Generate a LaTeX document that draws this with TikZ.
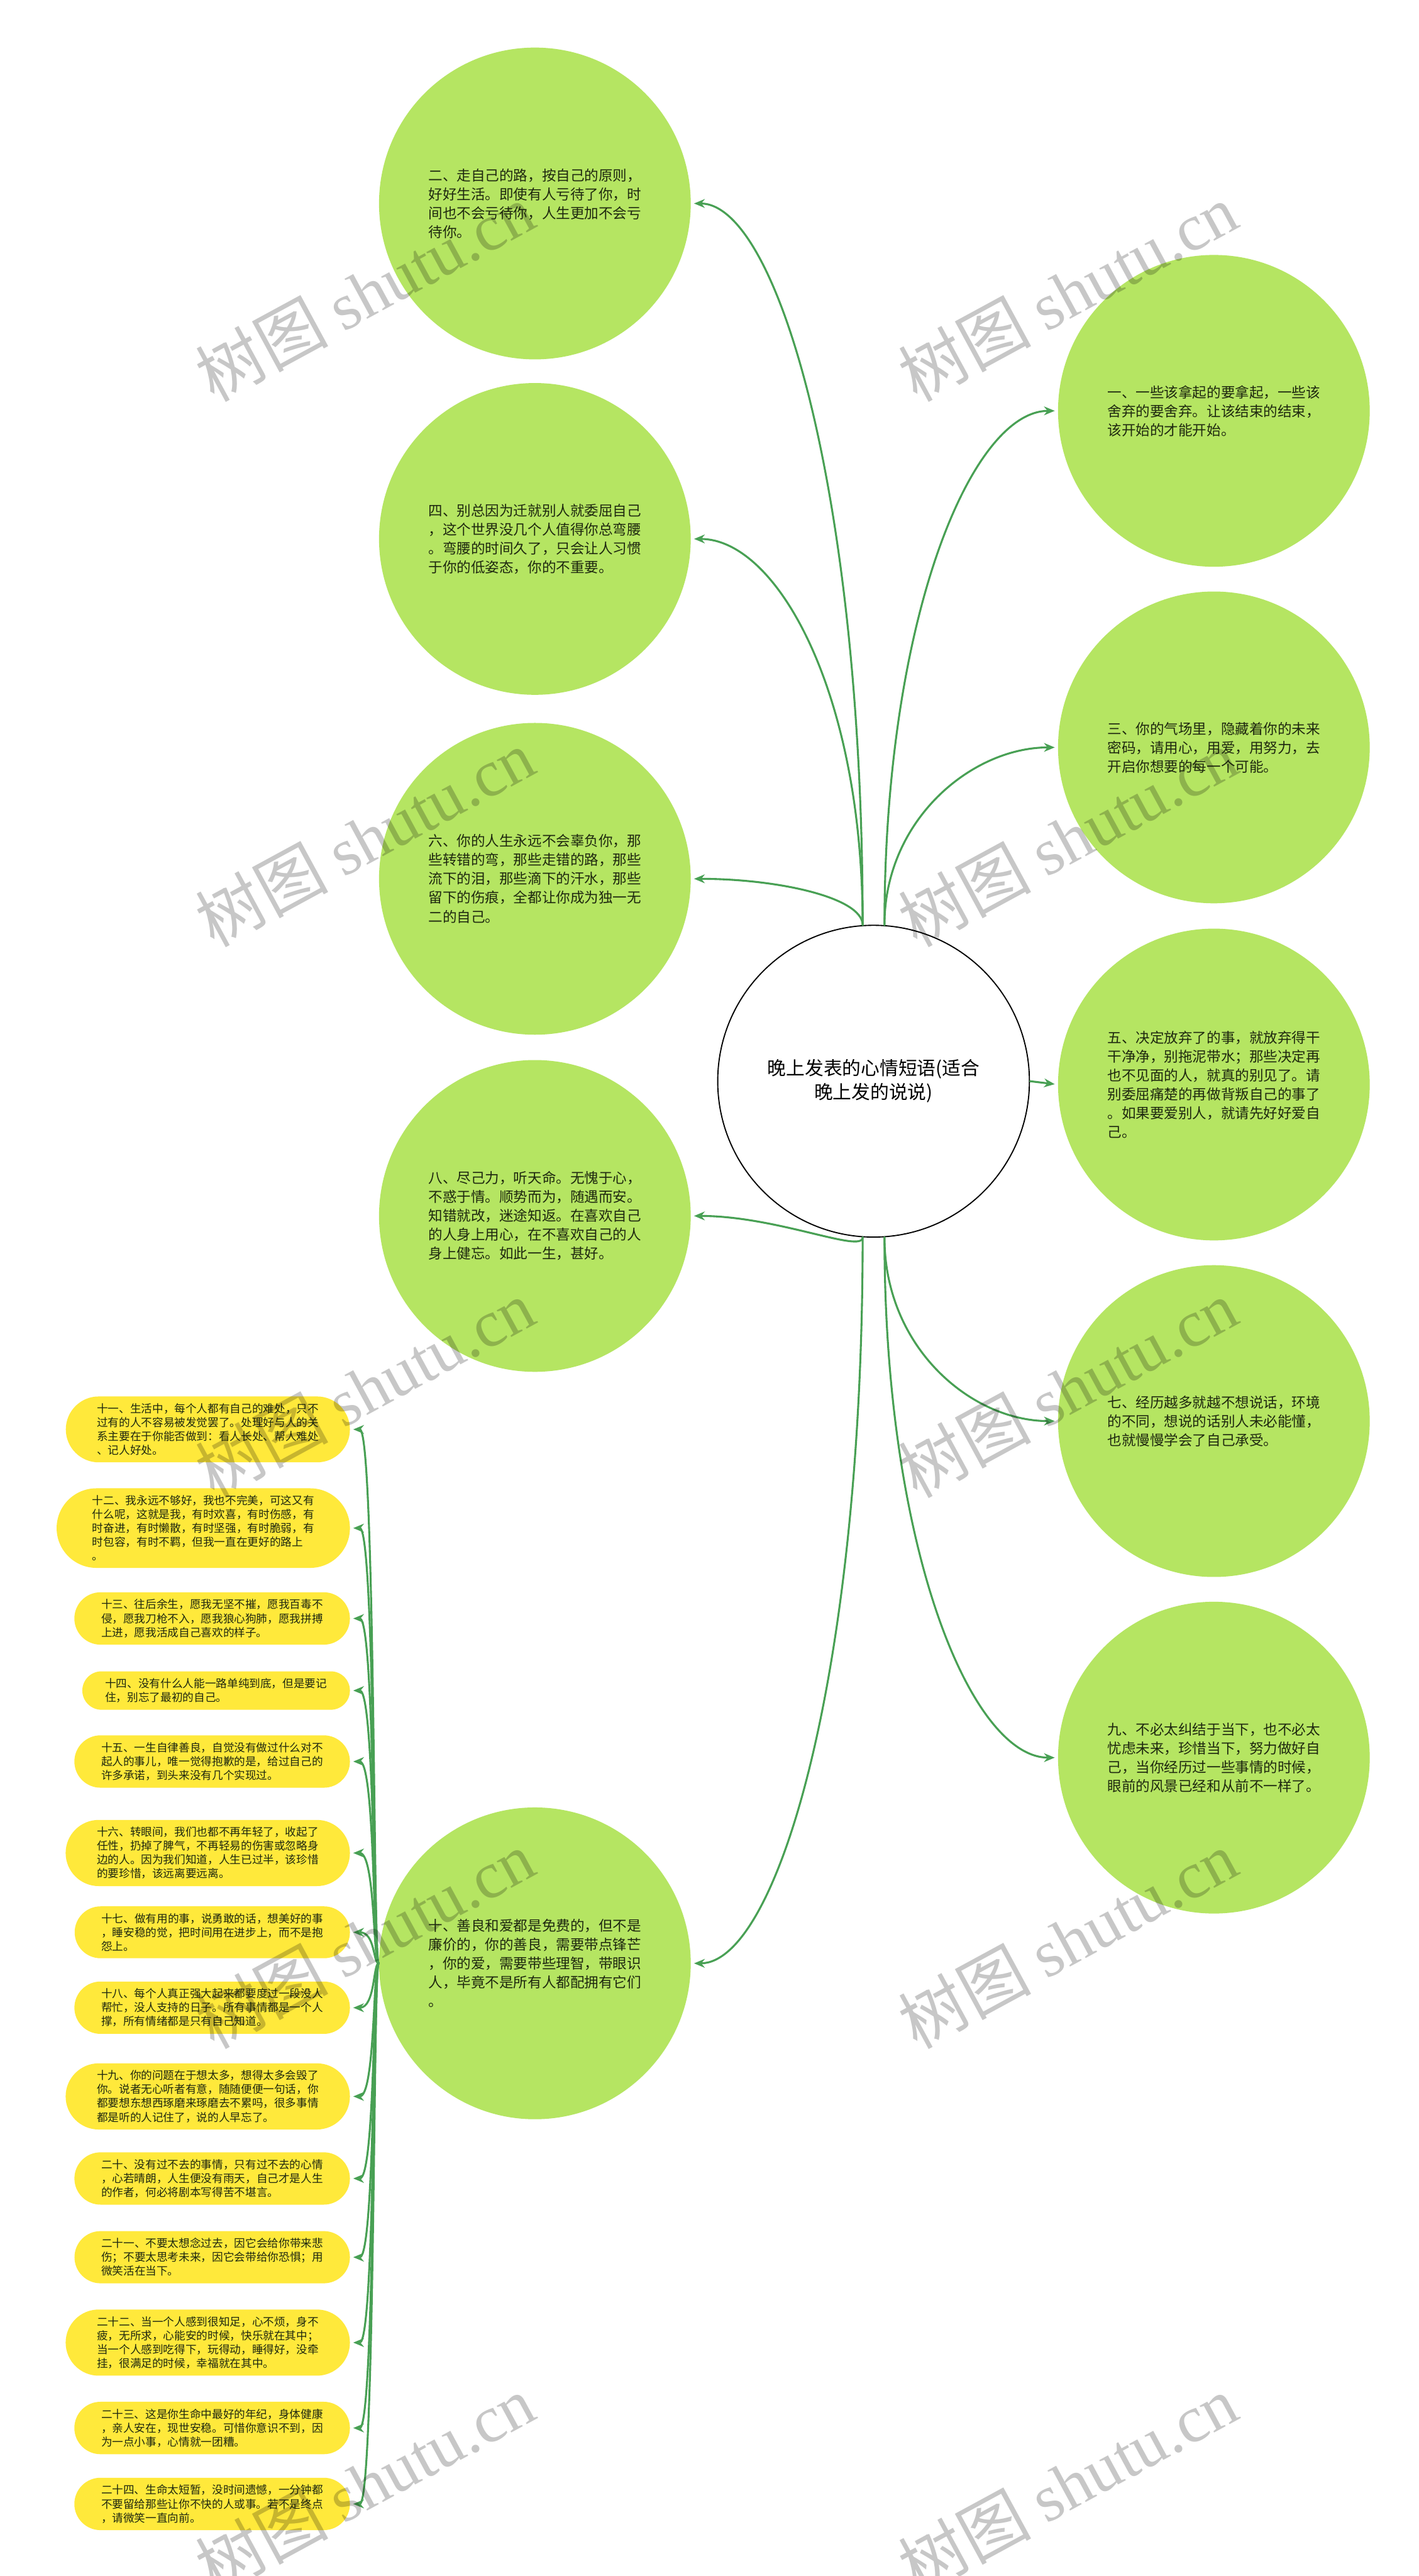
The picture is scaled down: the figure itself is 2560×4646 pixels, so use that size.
\documentclass[tikz,border=0pt]{standalone}
\usepackage{fontspec}
\setmainfont{Noto Sans CJK SC}
\newfontfamily\wmfont{Liberation Serif}
\usetikzlibrary{shapes.misc,arrows.meta}
\definecolor{leafgreen}{RGB}{181,229,98}
\definecolor{pillyellow}{RGB}{255,233,59}
\definecolor{linkgreen}{RGB}{72,160,84}
\definecolor{inkdark}{RGB}{30,40,15}
\tikzset{
	root/.style={circle,draw=black,line width=.6pt,fill=white,minimum size=5.62cm,align=center,font=\fontsize{9.6pt}{12.2pt}\selectfont},
	bubble/.style={circle,fill=leafgreen,minimum size=5.62cm,inner sep=0pt,align=left,text=inkdark,font=\fontsize{7.28pt}{9.68pt}\selectfont},
	pillnote/.style={rounded rectangle,fill=pillyellow,anchor=east,inner xsep=9.5pt,inner ysep=3.6pt,align=left,text=inkdark,font=\fontsize{5.69pt}{7.11pt}\selectfont},
	link/.style={draw=linkgreen,line width=1pt,-{Stealth[length=5.5pt,width=4.5pt]},shorten >=1.5pt},
	wmark/.style={rotate=28.5,text=black,text opacity=.22,font=\fontsize{34pt}{34pt}\selectfont}
}
\begin{document}
\begin{tikzpicture}[x=0.01cm,y=0.01cm,line join=round,line cap=round]
	\useasboundingbox (0,0) rectangle (2560,-4646);
	\fill[white] (0,0) rectangle (2560,-4646);
	\node[root] (root) at (1576,-1950) {晚上发表的心情短语(适合\\晚上发的说说)};
	% right column
	\node[bubble] (one) at (2190,-741) {一、一些该拿起的要拿起，一些该\\舍弃的要舍弃。让该结束的结束，\\该开始的才能开始。};
	\node[bubble] (three) at (2190,-1348) {三、你的气场里，隐藏着你的未来\\密码，请用心，用爱，用努力，去\\开启你想要的每一个可能。};
	\node[bubble] (five) at (2190,-1956) {五、决定放弃了的事，就放弃得干\\干净净，别拖泥带水；那些决定再\\也不见面的人，就真的别见了。请\\别委屈痛楚的再做背叛自己的事了\\。如果要爱别人，就请先好好爱自\\己。};
	\node[bubble] (seven) at (2190,-2563) {七、经历越多就越不想说话，环境\\的不同，想说的话别人未必能懂，\\也就慢慢学会了自己承受。};
	\node[bubble] (nine) at (2190,-3170) {九、不必太纠结于当下，也不必太\\忧虑未来，珍惜当下，努力做好自\\己，当你经历过一些事情的时候，\\眼前的风景已经和从前不一样了。};
	% left column
	\node[bubble] (two) at (965,-367) {二、走自己的路，按自己的原则，\\好好生活。即使有人亏待了你，时\\间也不会亏待你，人生更加不会亏\\待你。};
	\node[bubble] (four) at (965,-972) {四、别总因为迁就别人就委屈自己\\，这个世界没几个人值得你总弯腰\\。弯腰的时间久了，只会让人习惯\\于你的低姿态，你的不重要。};
	\node[bubble] (six) at (965,-1585) {六、你的人生永远不会辜负你，那\\些转错的弯，那些走错的路，那些\\流下的泪，那些滴下的汗水，那些\\留下的伤痕，全都让你成为独一无\\二的自己。};
	\node[bubble] (eight) at (965,-2193) {八、尽己力，听天命。无愧于心，\\不惑于情。顺势而为，随遇而安。\\知错就改，迷途知返。在喜欢自己\\的人身上用心，在不喜欢自己的人\\身上健忘。如此一生，甚好。};
	\node[bubble] (ten) at (965,-3541) {十、善良和爱都是免费的，但不是\\廉价的，你的善良，需要带点锋芒\\，你的爱，需要带些理智，带眼识\\人，毕竟不是所有人都配拥有它们\\。};
	% pills under ten
	\node[pillnote] (p11) at (632,-2578) {十一、生活中，每个人都有自己的难处，只不\\过有的人不容易被发觉罢了。处理好与人的关\\系主要在于你能否做到：看人长处、帮人难处\\、记人好处。};
	\node[pillnote] (p12) at (632,-2756) {十二、我永远不够好，我也不完美，可这又有\\什么呢，这就是我，有时欢喜，有时伤感，有\\时奋进，有时懒散，有时坚强，有时脆弱，有\\时包容，有时不羁，但我一直在更好的路上\\。};
	\node[pillnote] (p13) at (632,-2919) {十三、往后余生，愿我无坚不摧，愿我百毒不\\侵，愿我刀枪不入，愿我狼心狗肺，愿我拼搏\\上进，愿我活成自己喜欢的样子。};
	\node[pillnote] (p14) at (632,-3049) {十四、没有什么人能一路单纯到底，但是要记\\住，别忘了最初的自己。};
	\node[pillnote] (p15) at (632,-3177) {十五、一生自律善良，自觉没有做过什么对不\\起人的事儿，唯一觉得抱歉的是，给过自己的\\许多承诺，到头来没有几个实现过。};
	\node[pillnote] (p16) at (632,-3342) {十六、转眼间，我们也都不再年轻了，收起了\\任性，扔掉了脾气，不再轻易的伤害或忽略身\\边的人。因为我们知道，人生已过半，该珍惜\\的要珍惜，该远离要远离。};
	\node[pillnote] (p17) at (632,-3485) {十七、做有用的事，说勇敢的话，想美好的事\\，睡安稳的觉，把时间用在进步上，而不是抱\\怨上。};
	\node[pillnote] (p18) at (632,-3621) {十八、每个人真正强大起来都要度过一段没人\\帮忙，没人支持的日子。所有事情都是一个人\\撑，所有情绪都是只有自己知道。};
	\node[pillnote] (p19) at (632,-3781) {十九、你的问题在于想太多，想得太多会毁了\\你。说者无心听者有意，随随便便一句话，你\\都要想东想西琢磨来琢磨去不累吗，很多事情\\都是听的人记住了，说的人早忘了。};
	\node[pillnote] (p20) at (632,-3929) {二十、没有过不去的事情，只有过不去的心情\\，心若晴朗，人生便没有雨天，自己才是人生\\的作者，何必将剧本写得苦不堪言。};
	\node[pillnote] (p21) at (632,-4071) {二十一、不要太想念过去，因它会给你带来悲\\伤；不要太思考未来，因它会带给你恐惧；用\\微笑活在当下。};
	\node[pillnote] (p22) at (632,-4225) {二十二、当一个人感到很知足，心不烦，身不\\疲，无所求，心能安的时候，快乐就在其中；\\当一个人感到吃得下，玩得动，睡得好，没牵\\挂，很满足的时候，幸福就在其中。};
	\node[pillnote] (p23) at (632,-4379) {二十三、这是你生命中最好的年纪，身体健康\\，亲人安在，现世安稳。可惜你意识不到，因\\为一点小事，心情就一团糟。};
	\node[pillnote] (p24) at (632,-4516) {二十四、生命太短暂，没时间遗憾，一分钟都\\不要留给那些让你不快的人或事。若不是终点\\，请微笑一直向前。};
	% links
	\draw[link] (root.86) .. controls +(0,555) and +(-155,0) .. (one.west);
	\draw[link] (root.86) .. controls +(0,190) and +(-155,0) .. (three.west);
	\draw[link] (root.east) -- (five.west);
	\draw[link] (root.274) .. controls +(0,-200) and +(-155,0) .. (seven.west);
	\draw[link] (root.274) .. controls +(0,-565) and +(-155,0) .. (nine.west);
	\draw[link] (root.94) .. controls +(0,780) and +(155,0) .. (two.east);
	\draw[link] (root.94) .. controls +(0,420) and +(155,0) .. (four.east);
	\draw[link] (root.94) .. controls +(0,50) and +(155,0) .. (six.east);
	\draw[link] (root.266) .. controls +(0,-30) and +(155,0) .. (eight.east);
	\draw[link] (root.266) .. controls +(0,-790) and +(155,0) .. (ten.east);
	\foreach \p in {p11,p12,p13,p14,p15,p16,p17,p18,p19,p20,p21,p22,p23,p24}
		\draw[link] (ten.west) .. controls +(-10,0) and +(45,0) .. (\p.east);
	% watermark
	\foreach \wx in {658,1926}
		\foreach \wy in {527,1511,2504,3498,4480}
			\node[wmark] (wm-\wx-\wy) at (\wx,-\wy) {树图 {\wmfont shutu.cn}};
\end{tikzpicture}
\end{document}
